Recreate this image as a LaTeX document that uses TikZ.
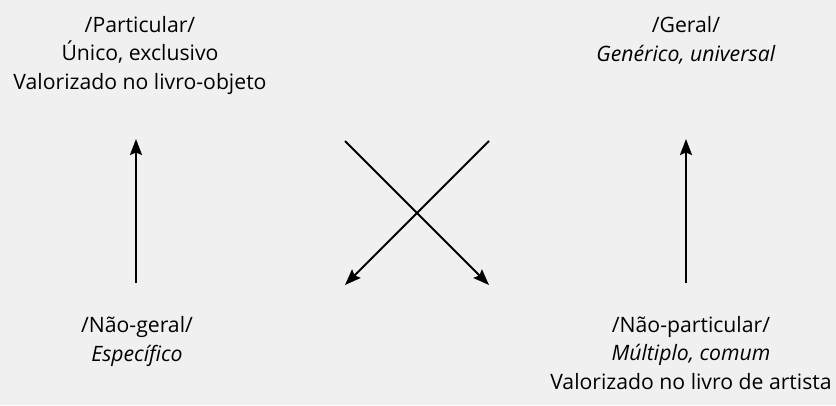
\documentclass[tikz,border=0pt]{standalone}
\usepackage{fontspec}
\setmainfont{Open Sans}
\usetikzlibrary{arrows.meta}
\definecolor{bgray}{HTML}{F0F0F0}

\begin{document}
\begin{tikzpicture}[x=1pt, y=-1pt,
  term/.style={font=\fontsize{21.2}{28.5}\selectfont, align=center, anchor=base, inner sep=0pt},
  arr/.style={line width=2pt, -{Stealth[length=16pt, width=12pt, inset=2.5pt]}}]
\fill[bgray] (0,0) rectangle (836,405);
\useasboundingbox (0,0) rectangle (836,405);
% top row
\node[term] (partic) at (140,89) {/Particular/\\Único, exclusivo\\Valorizado no livro-objeto};
\node[term] (geral) at (686,61) {/Geral/\\\textit{Genérico, universal}};
% bottom row
\node[term] (naogeral) at (137,361) {/Não-geral/\\\textit{Específico}};
\node[term] (naopartic) at (691,389) {/Não-particular/\\\textit{Múltiplo, comum}\\Valorizado no livro de artista};
% arrow ends
\coordinate (lBot) at (136,283);
\coordinate (lTop) at (136,139);
\coordinate (rBot) at (686,283);
\coordinate (rTop) at (686,139);
\coordinate (xTL) at (345,141);
\coordinate (xTR) at (489,141);
\coordinate (xBL) at (345,285);
\coordinate (xBR) at (489,285);
\draw[arr] (lBot) -- (lTop);
\draw[arr] (rBot) -- (rTop);
\draw[arr] (xTL) -- (xBR);
\draw[arr] (xTR) -- (xBL);
\end{tikzpicture}
\end{document}
